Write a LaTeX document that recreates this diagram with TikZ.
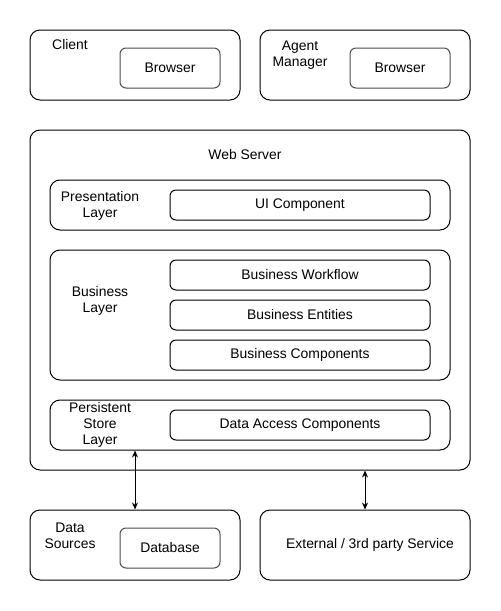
\documentclass[tikz,border=0pt]{standalone}
\usepackage{fontspec}
\setmainfont{Liberation Sans}
\usetikzlibrary{arrows.meta}

\begin{document}
\begin{tikzpicture}[x=1pt, y=-1pt,
    every node/.style={font=\fontsize{13.9}{16}\selectfont, align=center, inner sep=0pt},
    frame/.style={draw, line width=1pt, rounded corners=10pt},
    part/.style={draw, line width=1pt, rounded corners=6pt},
    link/.style={{Stealth[length=7pt,width=6pt]}-{Stealth[length=7pt,width=6pt]}, line width=1pt}]
  \useasboundingbox (0,0) rectangle (501,611);

  \node[frame, minimum width=210pt, minimum height=70pt] (client) at (135,65) {};
  \node (clientlbl) at (70,45) {Client};
  \node[part, draw=black!70, minimum width=100pt, minimum height=40pt] (cbrowser) at (170,68) {Browser};

  \node[frame, minimum width=210pt, minimum height=70pt] (agent) at (365,65) {};
  \node (agentlbl) at (300,55.5) {Agent\\Manager};
  \node[part, draw=black!70, minimum width=100pt, minimum height=40pt] (abrowser) at (400,68) {Browser};

  \node[frame, minimum width=440pt, minimum height=340pt] (web) at (250,300) {};
  \node (weblbl) at (245,155) {Web Server};

  \node[frame, minimum width=400pt, minimum height=50pt] (present) at (250,205) {};
  \node (presentlbl) at (100,205.5) {Presentation\\Layer};
  \node[part, minimum width=260pt, minimum height=30pt] (ui) at (300,205) {UI Component};

  \node[frame, minimum width=400pt, minimum height=130pt] (business) at (250,315) {};
  \node (businesslbl) at (100,301) {Business\\Layer};
  \node[part, minimum width=260pt, minimum height=30pt] (workflow) at (300,275) {Business Workflow};
  \node[part, minimum width=260pt, minimum height=30pt] (entities) at (300,315) {Business Entities};
  \node[part, minimum width=260pt, minimum height=30pt] (bcomp) at (300,355) {Business Components};

  \node[frame, minimum width=400pt, minimum height=50pt] (persist) at (250,425) {};
  \node (persistlbl) at (100,425) {Persistent\\Store\\Layer};
  \node[part, minimum width=260pt, minimum height=30pt] (dac) at (300,425) {Data Access Components};

  \node[frame, minimum width=210pt, minimum height=70pt] (dsrc) at (135,545) {};
  \node (dsrclbl) at (70,535.5) {Data\\Sources};
  \node[part, draw=black!70, minimum width=100pt, minimum height=40pt] (db) at (170,548) {Database};

  \node[frame, minimum width=210pt, minimum height=70pt] (ext) at (365,545) {};
  \node (extlbl) at (370,545) {External / 3rd party Service};

  \draw[link] (dsrc.north |- persist.south) -- (dsrc.north);
  \draw[link] (ext.north |- web.south) -- (ext.north);
\end{tikzpicture}
\end{document}
